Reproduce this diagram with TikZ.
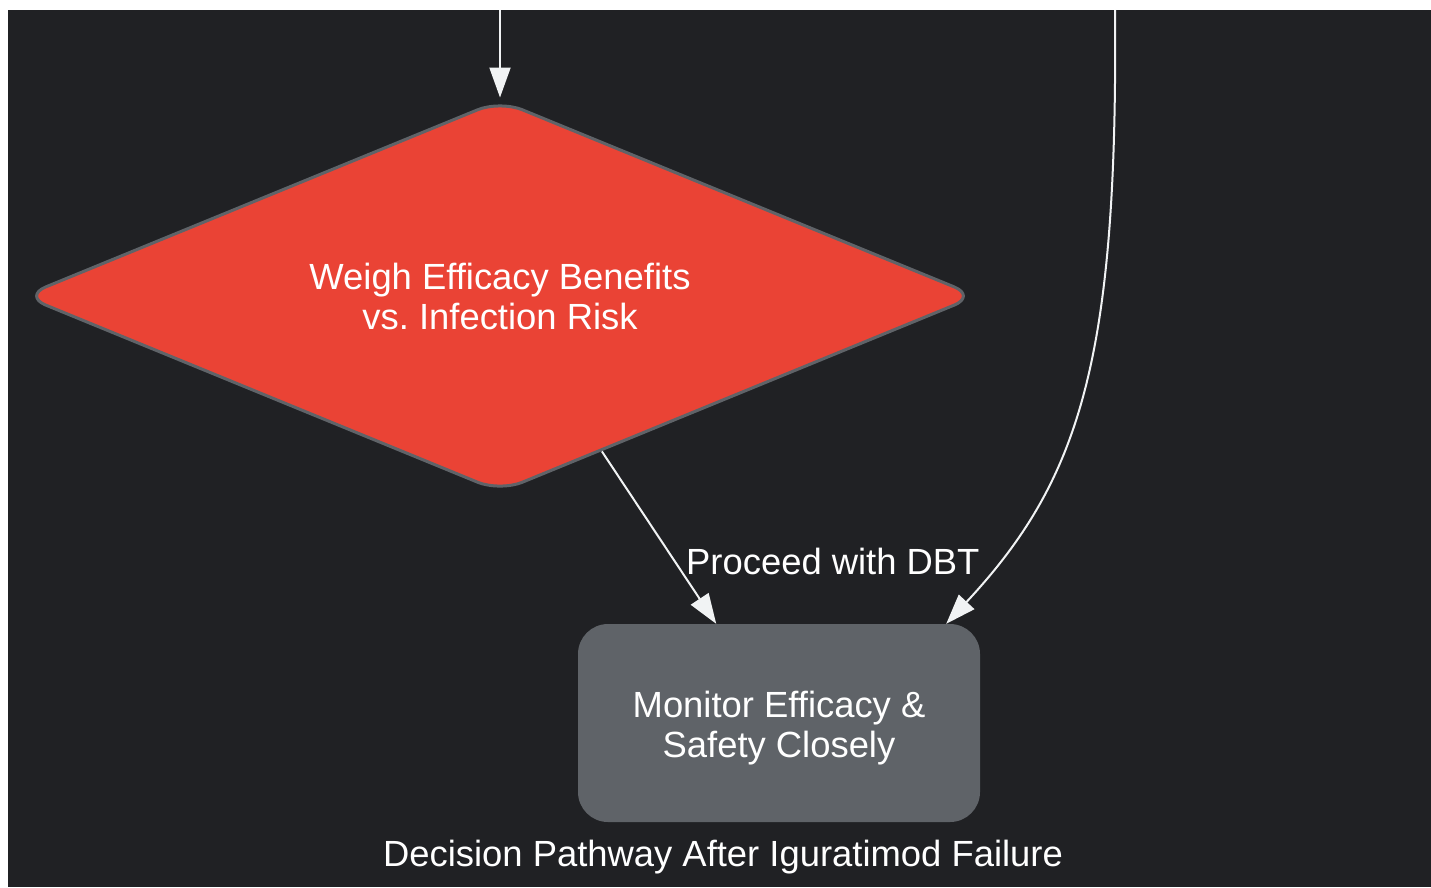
\documentclass[tikz,border=0pt]{standalone}
\usepackage{fontspec}
\setmainfont{Liberation Sans}
\frenchspacing
\usetikzlibrary{shapes.geometric,arrows.meta,calc}
\definecolor{bgdark}{HTML}{202124}
\definecolor{dred}{HTML}{EA4335}
\definecolor{dgray}{HTML}{5F6368}
\definecolor{arrowc}{HTML}{F1F3F4}
\tikzset{
  decision/.style={diamond, aspect=2.43, fill=dred, draw=dgray, line width=3pt, rounded corners=24pt,
    minimum width=954pt, minimum height=392pt, inner sep=0pt, text=white, align=center,
    font=\fontsize{36.4}{40}\selectfont},
  procbox/.style={rectangle, fill=dgray, rounded corners=30pt, minimum width=402pt,
    minimum height=198pt, inner sep=0pt},
  boxtext/.style={text=white, align=center, inner sep=0pt, font=\fontsize{36.4}{40}\selectfont},
  arr/.style={draw=arrowc, line width=2pt, -{Triangle[length=30pt,width=21pt]}},
  lbl/.style={text=white, font=\fontsize{36.4}{40}\selectfont, inner sep=0pt},
}
\begin{document}
\begin{tikzpicture}[x=1pt,y=-1pt]
\fill[white] (0,0) rectangle (1431,887);
\fill[bgdark] (8,10) rectangle (1431,887);
\useasboundingbox (0,0) rectangle (1431,887);
\node[decision] (d) at (500,296) {Weigh Efficacy Benefits\\vs. Infection Risk};
\node[procbox] (m) at (779,723) {};
\node[boxtext] (mt) at ($(m.center)+(0,5)$) {Monitor Efficacy \&\\Safety Closely};
\coordinate (topin) at (500,10);
\coordinate (rightin) at (1115,10);
\draw[arr] (topin) -- ($(d.north)+(0,-1)$);
\draw[arr] ($(d.south)!0.213!(d.east)$) -- ($(m.north west)!0.344!(m.north east)$);
\draw[arr] (rightin) .. controls (1118,360) and (1080,480) .. ($(m.north east)+(-34,0)$);
\node[lbl, anchor=west] (pl) at (686,561) {Proceed with DBT};
\node[lbl] (cap) at (723,857) {Decision Pathway After Iguratimod Failure};
\end{tikzpicture}
\end{document}
